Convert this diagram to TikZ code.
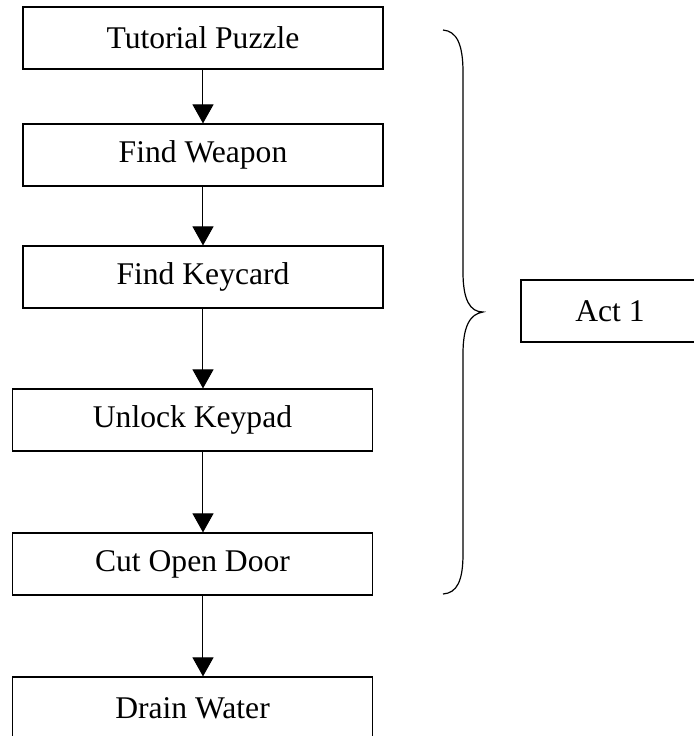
\documentclass[tikz,border=0pt]{standalone}
\usepackage{fontspec}
\setmainfont{Liberation Serif}
\usetikzlibrary{arrows.meta}
\tikzset{
	stage/.style={draw, line width=0.6pt, minimum width=180pt, minimum height=31pt, inner sep=0pt, font=\fontsize{15.8}{19}\selectfont},
	flow/.style={-{Triangle[width=10.5pt,length=9.5pt]}, line width=0.5pt}
}
\begin{document}
\begin{tikzpicture}[x=0.5pt,y=-0.5pt]
			\useasboundingbox (0,0) rectangle (694,736);
			\node[stage] (tp) at (203,38) {Tutorial Puzzle};
			\node[stage] (fw) at (203,155) {Find Weapon};
			\node[stage] (fk) at (203,277) {Find Keycard};
			\node[stage] (uk) at (192.5,420) {Unlock Keypad};
			\node[stage] (co) at (192.5,564) {Cut Open Door};
			\node[stage] (dw) at (192.5,708) {Drain Water};
			\node[stage, minimum width=89pt] (act) at (610,311) {Act 1};
			\path[flow]
			(tp) edge (fw)
			(fw) edge (fk)
			(fk.south) edge (fk.south |- uk.north)
			(uk.south -| fk.south) edge (co.north -| fk.south)
			(co.south -| fk.south) edge (dw.north -| fk.south);
			% brace over the first act
			\draw[line width=0.6pt] (443,30) .. controls (457,31) and (463,45) .. (463,72)
				-- (463,272) .. controls (463,300) and (470,312) .. (483,312)
				.. controls (470,314) and (463,326) .. (463,354)
				-- (463,554) .. controls (463,581) and (457,593) .. (443,594);
		\end{tikzpicture}
\end{document}
